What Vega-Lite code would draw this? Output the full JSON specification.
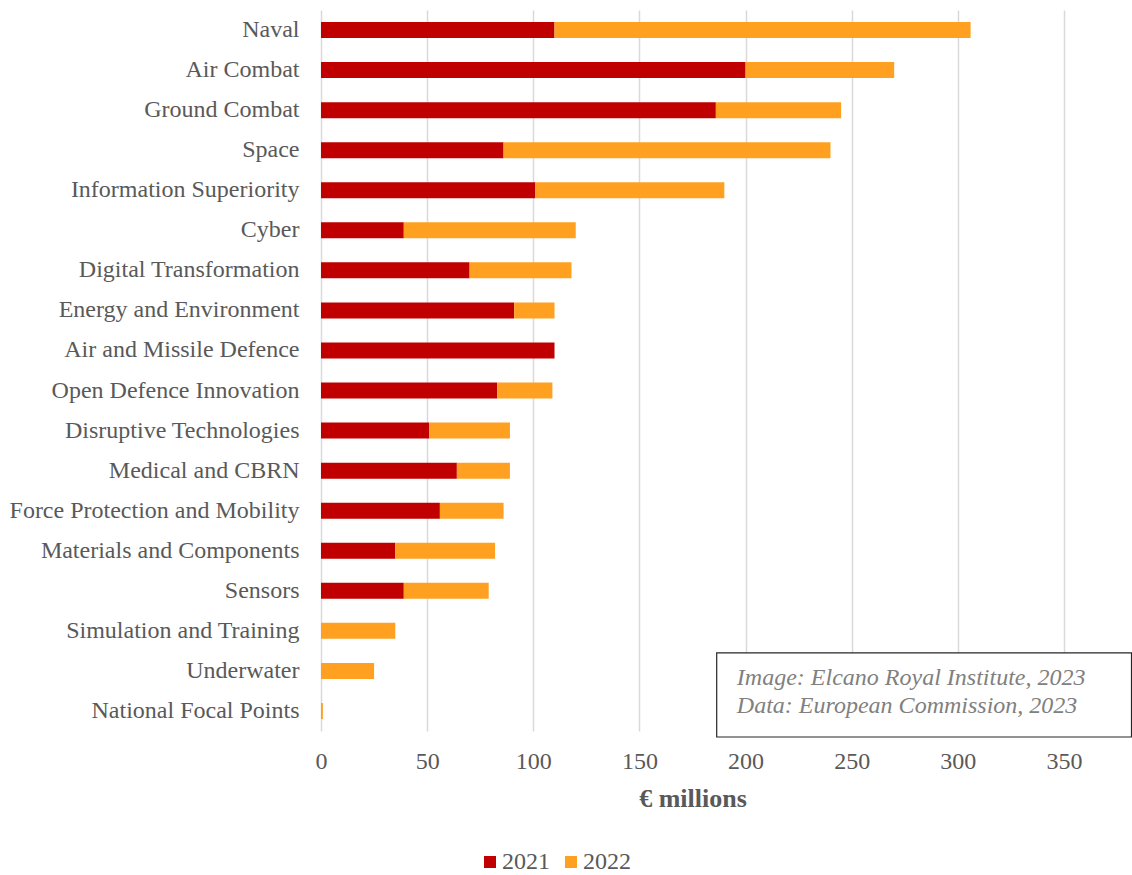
{
  "$schema": "https://vega.github.io/schema/vega-lite/v6.json",
  "autosize": {"type": "none"},
  "width": 743,
  "height": 721,
  "padding": {"left": 321, "top": 10, "right": 68, "bottom": 144},
  "background": "white",
  "config": {
    "view": {"stroke": null},
    "font": "Liberation Serif",
    "axis": {"labelFont": "Liberation Serif", "titleFont": "Liberation Serif", "labelColor": "#595959", "titleColor": "#595959"},
    "legend": {"labelFont": "Liberation Serif"}
  },
  "layer": [
    {
      "data": {
        "values": [
          {"category": "Naval", "year": "2021", "value": 110},
          {"category": "Naval", "year": "2022", "value": 196},
          {"category": "Air Combat", "year": "2021", "value": 200},
          {"category": "Air Combat", "year": "2022", "value": 70},
          {"category": "Ground Combat", "year": "2021", "value": 186},
          {"category": "Ground Combat", "year": "2022", "value": 59},
          {"category": "Space", "year": "2021", "value": 86},
          {"category": "Space", "year": "2022", "value": 154},
          {"category": "Information Superiority", "year": "2021", "value": 101},
          {"category": "Information Superiority", "year": "2022", "value": 89},
          {"category": "Cyber", "year": "2021", "value": 39},
          {"category": "Cyber", "year": "2022", "value": 81},
          {"category": "Digital Transformation", "year": "2021", "value": 70},
          {"category": "Digital Transformation", "year": "2022", "value": 48},
          {"category": "Energy and Environment", "year": "2021", "value": 91},
          {"category": "Energy and Environment", "year": "2022", "value": 19},
          {"category": "Air and Missile Defence", "year": "2021", "value": 110},
          {"category": "Air and Missile Defence", "year": "2022", "value": 0},
          {"category": "Open Defence Innovation ", "year": "2021", "value": 83},
          {"category": "Open Defence Innovation ", "year": "2022", "value": 26},
          {"category": "Disruptive Technologies", "year": "2021", "value": 51},
          {"category": "Disruptive Technologies", "year": "2022", "value": 38},
          {"category": "Medical and CBRN", "year": "2021", "value": 64},
          {"category": "Medical and CBRN", "year": "2022", "value": 25},
          {"category": "Force Protection and Mobility", "year": "2021", "value": 56},
          {"category": "Force Protection and Mobility", "year": "2022", "value": 30},
          {"category": "Materials and Components", "year": "2021", "value": 35},
          {"category": "Materials and Components", "year": "2022", "value": 47},
          {"category": "Sensors", "year": "2021", "value": 39},
          {"category": "Sensors", "year": "2022", "value": 40},
          {"category": "Simulation and Training", "year": "2021", "value": 0},
          {"category": "Simulation and Training", "year": "2022", "value": 35},
          {"category": "Underwater", "year": "2021", "value": 0},
          {"category": "Underwater", "year": "2022", "value": 25},
          {"category": "National Focal Points", "year": "2021", "value": 0},
          {"category": "National Focal Points", "year": "2022", "value": 0.9}
        ]
      },
      "mark": {"type": "bar"},
      "encoding": {
        "y": {
          "field": "category", "type": "nominal", "sort": null,
          "scale": {"paddingInner": 0.6, "paddingOuter": 0.3},
          "axis": {"title": null, "labelFontSize": 24, "labelPadding": 22, "ticks": false, "domain": false, "labelLimit": 400}
        },
        "x": {
          "field": "value", "type": "quantitative", "stack": "zero",
          "scale": {"domain": [0, 350], "nice": false},
          "axis": {
            "values": [0, 50, 100, 150, 200, 250, 300, 350],
            "title": "€ millions", "titleFontSize": 26, "titleFontWeight": "bold", "titlePadding": 12,
            "labelFontSize": 24, "labelPadding": 18, "labelFlush": false, "ticks": false, "domain": false,
            "grid": true, "gridColor": "#d9d9d9", "gridWidth": 1.5
          }
        },
        "color": {
          "field": "year", "type": "nominal",
          "scale": {"domain": ["2021", "2022"], "range": ["#C00000", "#FFA021"]},
          "legend": {
            "title": null, "orient": "none", "direction": "horizontal",
            "legendX": 157, "legendY": 840,
            "symbolType": "square", "symbolSize": 144, "symbolStrokeWidth": 0,
            "labelFontSize": 24, "labelColor": "#595959", "labelOffset": 0, "columnPadding": 9,
            "labelLimit": 300
          }
        },
        "order": {"field": "year", "type": "nominal"}
      }
    },
    {
      "data": {"values": [{"x1": 186.4, "x2": 381.8, "r1": 16.05, "r2": 18.15}]},
      "mark": {"type": "rect", "fill": "white", "stroke": "#262626", "strokeWidth": 1.2},
      "encoding": {
        "x": {"field": "x1", "type": "quantitative"},
        "x2": {"field": "x2"},
        "y": {"field": "r1", "type": "quantitative", "scale": {"domain": [0, 18], "reverse": true, "nice": false, "zero": false}, "axis": null},
        "y2": {"field": "r2"}
      }
    },
    {
      "data": {"values": [
        {"x": 195.9, "r": 16.68, "label": "Image: Elcano Royal Institute, 2023"},
        {"x": 195.9, "r": 17.38, "label": "Data: European Commission, 2023"}
      ]},
      "mark": {"type": "text", "align": "left", "baseline": "middle", "font": "Liberation Serif", "fontStyle": "italic", "fontSize": 24, "color": "#808080"},
      "encoding": {
        "x": {"field": "x", "type": "quantitative"},
        "y": {"field": "r", "type": "quantitative", "scale": {"domain": [0, 18], "reverse": true, "nice": false, "zero": false}, "axis": null},
        "text": {"field": "label"}
      }
    }
  ],
  "resolve": {"scale": {"y": "independent"}}
}
